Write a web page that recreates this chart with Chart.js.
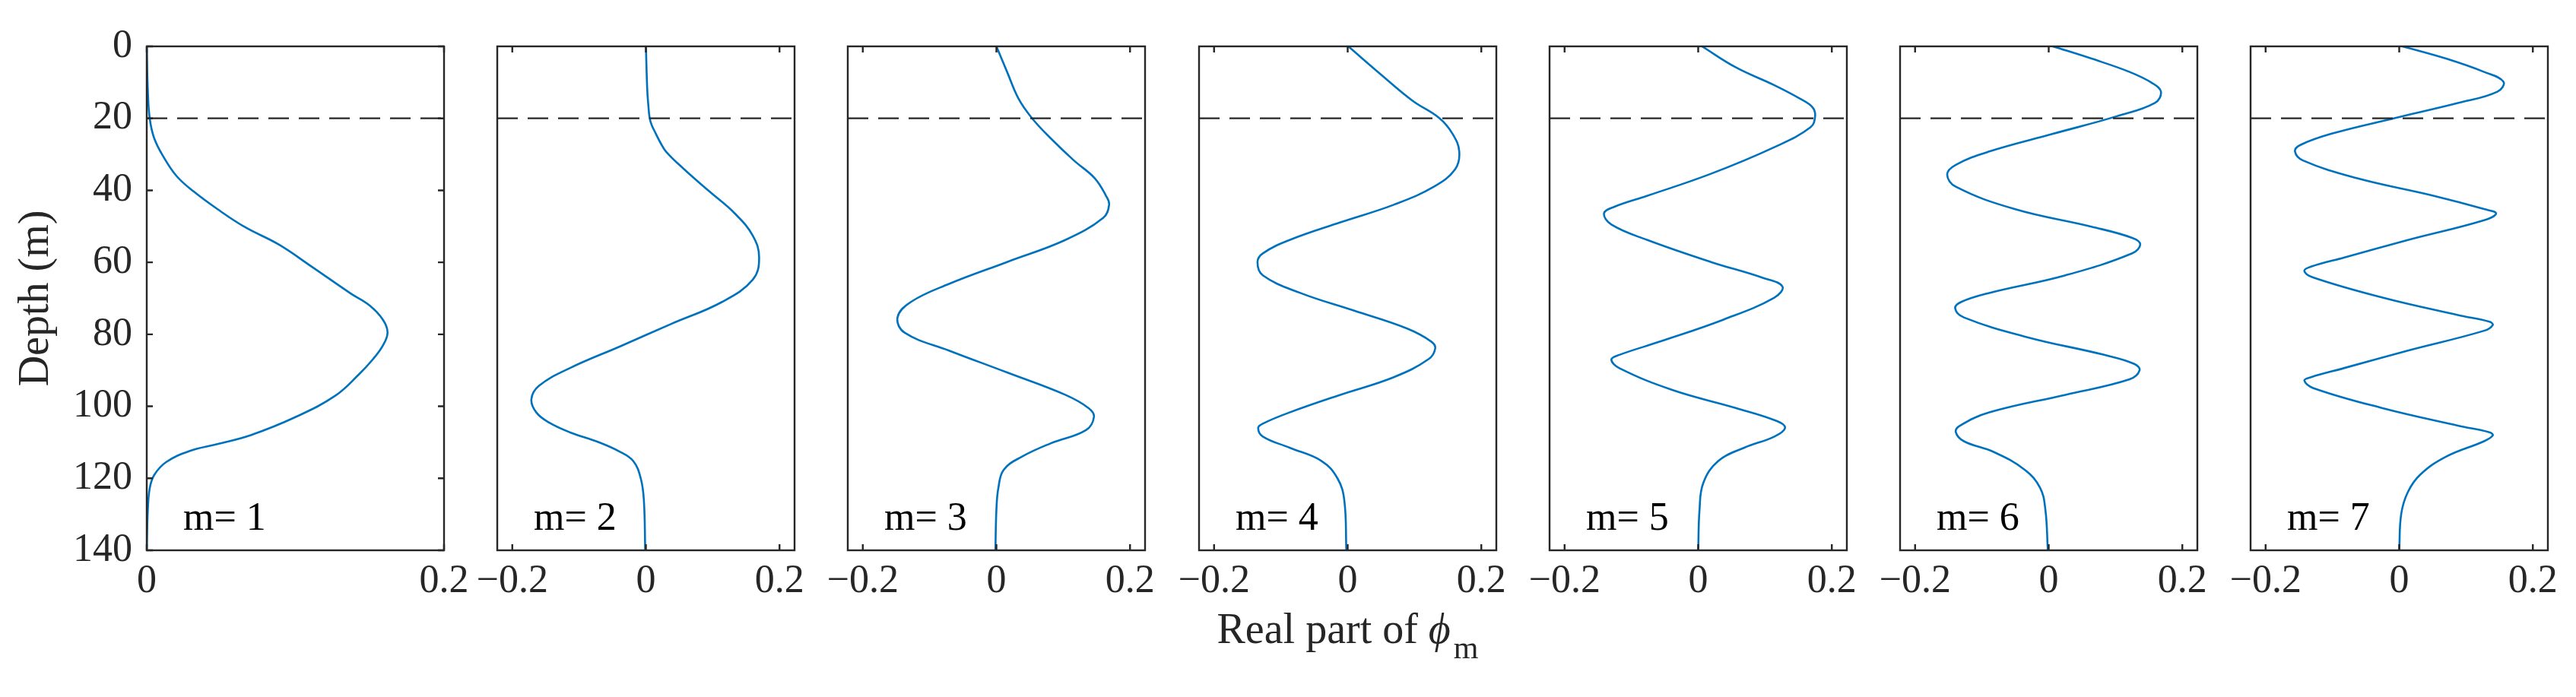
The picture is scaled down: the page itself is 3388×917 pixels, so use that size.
<!DOCTYPE html>
<html>
<head>
<meta charset="utf-8">
<script src="https://cdn.jsdelivr.net/npm/chart.js@4/dist/chart.umd.min.js"></script>
<style>
  html, body { margin: 0; padding: 0; background: #ffffff; }
  #wrap { position: relative; width: 3388px; height: 917px; overflow: hidden; background: #ffffff; }
  #wrap canvas { position: absolute; top: 0; }
</style>
</head>
<body>
<div id="wrap"></div>
<script>
// ---------------- data ----------------
const modeLabels = ['m= 1', 'm= 2', 'm= 3', 'm= 4', 'm= 5', 'm= 6', 'm= 7'];
const interfaceDepth = 20;
const yTickValues = [0, 20, 40, 60, 80, 100, 120, 140];
const xTickValuesFirst = [0, 0.2];
const xTickValues = [-0.2, 0, 0.2];
const xRangeFirst = [0, 0.2];
const xRange = [-0.2225, 0.2225];
const yTitle = 'Depth (m)';
const xTitleMain = 'Real part of ';
const xTitleSymbol = '\u03D5';
const xTitleSub = 'm';

const depthM1 = [0, 12, 20, 25.5, 30.5, 36, 40.3, 45.2, 50.2, 55, 61.2, 68.6, 72, 76, 79.5, 83, 87, 91, 97, 103, 108, 110.5, 112.4, 115.5, 119.1, 122.8, 129, 140];
const phiM1   = [0, 0.0007, 0.002, 0.005, 0.011, 0.020, 0.0315, 0.0475, 0.066, 0.0886, 0.111, 0.137, 0.150, 0.159, 0.162, 0.159, 0.152, 0.143, 0.127, 0.100, 0.070, 0.0475, 0.029, 0.013, 0.005, 0.002, 0.0007, 0];

const depthM2 = [0, 12, 16, 20, 22, 24.3, 26.5, 29.2, 34.1, 40.3, 46.4, 52.6, 58.7, 64.8, 71, 77.1, 83.3, 89.4, 94.3, 98, 101.7, 104.5, 107.2, 110, 112.5, 115.2, 120.1, 126.2, 140];
const phiM2   = [0, 0.002, 0.0035, 0.0057, 0.009, 0.015, 0.021, 0.030, 0.057, 0.095, 0.133, 0.160, 0.1695, 0.160, 0.114, 0.038, -0.038, -0.114, -0.160, -0.1714, -0.164, -0.145, -0.114, -0.070, -0.040, -0.019, -0.0076, -0.003, -0.001];

const depthM3 = [0, 7.1, 14.5, 19.9, 25.5, 31.7, 36.6, 41.5, 44, 47.6, 53.8, 59.9, 66, 71, 75.3, 79.6, 84.5, 90.6, 96.8, 100.5, 102.9, 106.6, 110.3, 114, 117.6, 122.6, 128.7, 140];
const phiM3   = [0, 0.016, 0.033, 0.053, 0.081, 0.116, 0.147, 0.164, 0.1687, 0.160, 0.103, 0.016, -0.071, -0.128, -0.148, -0.137, -0.071, 0.016, 0.103, 0.138, 0.146, 0.134, 0.081, 0.038, 0.011, 0.003, 0, -0.0015];

const depthM4 = [0, 7.7, 15.1, 19.9, 24.3, 29.2, 34.1, 39, 44, 48.9, 53.8, 57.5, 59.9, 63.6, 68.5, 73.4, 78.4, 82, 83.9, 86.9, 91.9, 96.8, 101.7, 104.8, 106, 108.4, 111.5, 115.2, 120.1, 126.2, 140];
const phiM4   = [0.001, 0.049, 0.097, 0.137, 0.157, 0.167, 0.161, 0.129, 0.069, -0.011, -0.087, -0.127, -0.135, -0.127, -0.071, 0.009, 0.089, 0.125, 0.131, 0.121, 0.069, -0.011, -0.087, -0.127, -0.134, -0.127, -0.087, -0.039, -0.015, -0.005, -0.002];

const depthM5 = [0, 5.9, 10.8, 14.5, 16.9, 19.4, 22.5, 28, 35.4, 41.5, 44.6, 46.4, 49.5, 53.8, 59.9, 64.2, 66.7, 69.8, 75.9, 82, 85.7, 87, 89.4, 95.5, 100.5, 104.1, 106, 108.4, 111.5, 115.2, 121.3, 128.7, 140];
const phiM5   = [0.0057, 0.057, 0.114, 0.152, 0.171, 0.175, 0.168, 0.114, 0.019, -0.076, -0.126, -0.141, -0.130, -0.076, 0.019, 0.095, 0.126, 0.114, 0.038, -0.057, -0.118, -0.130, -0.118, -0.038, 0.057, 0.118, 0.130, 0.114, 0.069, 0.030, 0.0076, 0.002, 0];

const depthM6 = [0, 3.4, 7.1, 10.2, 12.6, 15.7, 19.4, 24.3, 29.2, 32.9, 35.6, 39, 45.2, 50.1, 53.2, 55, 57.5, 63.6, 68.5, 71, 72.8, 75.3, 80.8, 85.7, 88.2, 90, 92.5, 96.8, 101.7, 105.4, 107.2, 109.7, 112.7, 117.6, 122.6, 128.7, 140];
const phiM6   = [0.0063, 0.064, 0.121, 0.155, 0.168, 0.159, 0.102, 0.0063, -0.089, -0.139, -0.152, -0.139, -0.051, 0.064, 0.125, 0.137, 0.125, 0.025, -0.089, -0.131, -0.140, -0.127, -0.032, 0.083, 0.128, 0.136, 0.121, 0.025, -0.089, -0.133, -0.139, -0.127, -0.082, -0.036, -0.013, -0.005, -0.0013];

const depthM7 = [0, 3.4, 7.1, 9.8, 12.6, 15.7, 19.9, 24.3, 27.4, 29.2, 31.7, 36.6, 41.5, 45.2, 46.4, 48.3, 53.8, 58.7, 61.2, 62.4, 64.2, 69.8, 74.7, 76.5, 77.4, 79, 84.5, 89.4, 91.9, 92.8, 94.9, 100.5, 105.4, 107.2, 108.1, 109.7, 114, 118.9, 123.8, 129.9, 140];
const phiM7   = [0.005, 0.070, 0.127, 0.156, 0.147, 0.089, -0.006, -0.102, -0.148, -0.156, -0.144, -0.064, 0.051, 0.127, 0.145, 0.127, 0.013, -0.083, -0.132, -0.142, -0.129, -0.025, 0.089, 0.135, 0.140, 0.127, 0.013, -0.083, -0.132, -0.142, -0.129, -0.025, 0.089, 0.135, 0.140, 0.127, 0.070, 0.032, 0.013, 0.003, 0];

// ---------------- style / layout ----------------
const FONT = '"Liberation Serif", "Times New Roman", "DejaVu Serif", serif';
const AXIS_COLOR = '#262626';
const LINE_COLOR = '#0072BD';
const H = 917, TOP = 61, BOTTOM = 724, PLOT_W = 391, LEFT0 = 193, STEP = 461.2;
const TICK_FONT = 52, LABEL_FONT = 56, TEXT_FONT = 52, TICK_LEN = 8;

const panels = [
  { depth: depthM1, phi: phiM1, range: xRangeFirst, ticks: xTickValuesFirst },
  { depth: depthM2, phi: phiM2, range: xRange, ticks: xTickValues },
  { depth: depthM3, phi: phiM3, range: xRange, ticks: xTickValues },
  { depth: depthM4, phi: phiM4, range: xRange, ticks: xTickValues },
  { depth: depthM5, phi: phiM5, range: xRange, ticks: xTickValues },
  { depth: depthM6, phi: phiM6, range: xRange, ticks: xTickValues },
  { depth: depthM7, phi: phiM7, range: xRange, ticks: xTickValues }
];

function fmtTick(v) {
  if (Math.abs(v) < 1e-12) return '0';
  return v < 0 ? '\u2212' + String(+(-v).toFixed(3)) : String(+v.toFixed(3));
}

const decor = {
  id: 'panelDecor',
  afterDatasetsDraw(chart, args, o) {
    const { ctx, chartArea: a, scales: { x, y } } = chart;
    ctx.save();
    ctx.setLineDash([]);
    ctx.strokeStyle = AXIS_COLOR;
    ctx.lineWidth = 2.4;
    ctx.beginPath();
    x.ticks.forEach(t => {
      const px = x.getPixelForValue(t.value);
      ctx.moveTo(px, a.bottom); ctx.lineTo(px, a.bottom - TICK_LEN);
      ctx.moveTo(px, a.top); ctx.lineTo(px, a.top + TICK_LEN);
    });
    if (o.yTicks) {
      y.ticks.forEach(t => {
        const py = y.getPixelForValue(t.value);
        ctx.moveTo(a.left, py); ctx.lineTo(a.left + TICK_LEN, py);
        ctx.moveTo(a.right, py); ctx.lineTo(a.right - TICK_LEN, py);
      });
    }
    ctx.stroke();
    ctx.strokeRect(a.left, a.top, a.right - a.left, a.bottom - a.top);

    // mode label
    ctx.fillStyle = '#000000';
    ctx.font = TEXT_FONT + 'px ' + FONT;
    ctx.textAlign = 'left';
    ctx.textBaseline = 'alphabetic';
    ctx.fillText(o.label, a.left + 48, a.bottom - 27);

    // shared x-axis title with subscript
    if (o.xTitle) {
      const mainFont = LABEL_FONT + 'px ' + FONT;
      const symFont = 'italic ' + LABEL_FONT + 'px ' + FONT;
      const subFont = Math.round(LABEL_FONT * 0.75) + 'px ' + FONT;
      ctx.font = mainFont; const w1 = ctx.measureText(xTitleMain).width;
      ctx.font = symFont; const w2 = ctx.measureText(xTitleSymbol).width;
      ctx.font = subFont; const w3 = ctx.measureText(xTitleSub).width;
      const gap = 4;
      const total = w1 + w2 + gap + w3;
      const cx = (a.left + a.right) / 2;
      let xx = cx - total / 2;
      const base = 846;
      ctx.fillStyle = AXIS_COLOR;
      ctx.font = mainFont; ctx.fillText(xTitleMain, xx, base); xx += w1;
      ctx.font = symFont; ctx.fillText(xTitleSymbol, xx, base); xx += w2 + gap;
      ctx.font = subFont; ctx.fillText(xTitleSub, xx, base + 20);
    }
    ctx.restore();
  }
};

const wrap = document.getElementById('wrap');

panels.forEach((p, i) => {
  const first = i === 0;
  const plotLeft = Math.round(LEFT0 + STEP * i);
  const padL = first ? plotLeft : 60;
  const padR = 60;
  const cw = padL + PLOT_W + padR;
  const canvas = document.createElement('canvas');
  canvas.width = cw; canvas.height = H;
  canvas.style.left = (plotLeft - padL) + 'px';
  canvas.style.width = cw + 'px';
  canvas.style.height = H + 'px';
  wrap.appendChild(canvas);

  new Chart(canvas, {
    type: 'line',
    data: {
      datasets: [
        {
          data: p.depth.map((d, k) => ({ x: p.phi[k], y: d })),
          borderColor: LINE_COLOR,
          borderWidth: 2.6,
          pointRadius: 0,
          tension: 0.4,
          fill: false,
          order: 1
        },
        {
          data: [{ x: p.range[0], y: interfaceDepth }, { x: p.range[1], y: interfaceDepth }],
          borderColor: AXIS_COLOR,
          borderWidth: 2.2,
          borderDash: [27, 13],
          pointRadius: 0,
          tension: 0,
          fill: false,
          order: 0
        }
      ]
    },
    options: {
      responsive: false,
      animation: false,
      devicePixelRatio: 1,
      indexAxis: 'y',
      events: [],
      layout: { padding: { left: first ? 0 : padL, right: padR, top: TOP, bottom: 0 } },
      plugins: {
        legend: { display: false },
        tooltip: { enabled: false },
        panelDecor: { label: modeLabels[i], yTicks: first, xTitle: i === 3 }
      },
      scales: {
        x: {
          type: 'linear',
          min: p.range[0],
          max: p.range[1],
          afterBuildTicks: s => { s.ticks = p.ticks.map(v => ({ value: v })); },
          afterFit: s => { s.height = H - BOTTOM; },
          grid: { display: false, drawTicks: false },
          border: { display: false },
          ticks: {
            padding: 10,
            autoSkip: false,
            maxRotation: 0,
            color: AXIS_COLOR,
            font: { family: FONT, size: TICK_FONT },
            callback: v => fmtTick(v)
          }
        },
        y: {
          type: 'linear',
          reverse: true,
          min: 0,
          max: 140,
          display: first,
          afterBuildTicks: s => { s.ticks = yTickValues.map(v => ({ value: v })); },
          afterFit: s => { if (first) s.width = padL; },
          grid: { display: false, drawTicks: false },
          border: { display: false },
          ticks: {
            padding: 19,
            autoSkip: false,
            color: AXIS_COLOR,
            font: { family: FONT, size: TICK_FONT },
            callback: v => String(v)
          },
          title: {
            display: first,
            text: yTitle,
            color: AXIS_COLOR,
            font: { family: FONT, size: LABEL_FONT },
            padding: { top: 15, bottom: 0 }
          }
        }
      }
    },
    plugins: [decor]
  });
});
</script>
</body>
</html>
